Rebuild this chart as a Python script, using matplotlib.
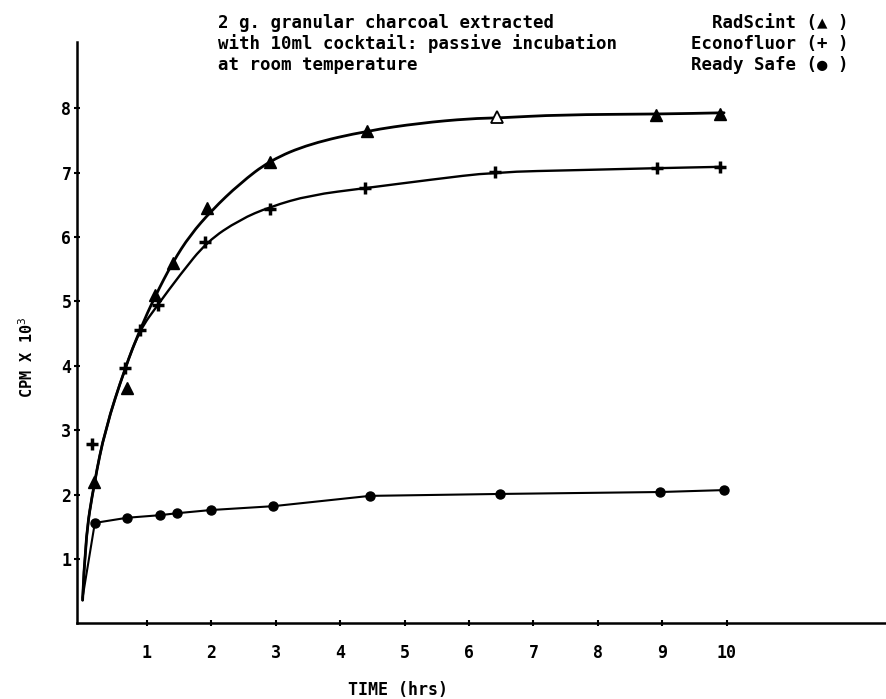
import numpy as np
import matplotlib
matplotlib.use("Agg")
from matplotlib import pyplot as plt
from matplotlib.path import Path
from matplotlib.patches import PathPatch

# marker readings (hours, CPM x 10^3)
rad_t = [0.18, 0.69, 1.12, 1.40, 1.93, 2.91, 4.42, 8.90, 9.90]
rad_y = [2.20, 3.65, 5.10, 5.60, 6.45, 7.17, 7.65, 7.90, 7.91]
rad_open_t = [6.44]
rad_open_y = [7.87]

econ_t = [0.14, 0.66, 0.89, 1.17, 1.90, 2.91, 4.39, 6.40, 8.92, 9.90]
econ_y = [2.78, 3.97, 4.56, 4.95, 5.92, 6.43, 6.76, 7.01, 7.07, 7.09]

safe_t = [0.00, 0.19, 0.69, 1.20, 1.46, 1.99, 2.96, 4.46, 6.48, 8.97, 9.96]
safe_y = [0.40, 1.56, 1.64, 1.68, 1.71, 1.76, 1.82, 1.98, 2.01, 2.04, 2.07]

# hand drawn fit curves
rad_curve_t = [0.00, 0.04, 0.18, 0.35, 0.66, 0.89, 1.12, 1.40, 1.67, 2.01, 2.44,
               2.91, 3.53, 4.42, 5.24, 6.02, 6.48, 7.41, 8.97, 9.96]
rad_curve_y = [0.36, 1.30, 2.18, 3.01, 3.97, 4.56, 5.07, 5.61, 6.03, 6.42, 6.83,
               7.19, 7.45, 7.65, 7.77, 7.84, 7.85, 7.90, 7.91, 7.93]
econ_curve_t = [0.00, 0.04, 0.18, 0.35, 0.66, 0.89, 1.17, 1.51, 1.93, 2.44, 2.91,
                3.53, 4.39, 5.40, 6.40, 7.72, 8.92, 9.90]
econ_curve_y = [0.36, 1.30, 2.18, 3.01, 3.97, 4.56, 4.95, 5.41, 5.93, 6.27, 6.47,
                6.65, 6.76, 6.89, 7.01, 7.04, 7.07, 7.09]

xticks = list(range(1, 11))
yticks = list(range(1, 9))

mono = ["DejaVu Sans Mono", "DejaVu Sans"]


def smooth_path(xs, ys):
    # quadratic bezier: read points are control points, midpoints on the curve
    verts = [(xs[0], ys[0])]
    codes = [Path.MOVETO]
    for i in range(1, len(xs) - 1):
        verts += [(xs[i], ys[i]),
                  ((xs[i] + xs[i + 1]) / 2, (ys[i] + ys[i + 1]) / 2)]
        codes += [Path.CURVE3, Path.CURVE3]
    verts.append((xs[-1], ys[-1]))
    codes.append(Path.LINETO)
    return Path(verts, codes)


fig = plt.figure(figsize=(8.87, 6.99), dpi=100)
ax = fig.add_axes([0.0868, 0.1082, 0.9132, 0.8318])

ax.add_patch(PathPatch(smooth_path(rad_curve_t, rad_curve_y), fc="none",
                       ec="black", lw=2.0, capstyle="round"))
ax.add_patch(PathPatch(smooth_path(econ_curve_t, econ_curve_y), fc="none",
                       ec="black", lw=1.7, capstyle="round"))
ax.plot(safe_t, safe_y, color="black", lw=1.5)
ax.plot(safe_t[1:], safe_y[1:], ls="none", marker="o", ms=6.5, color="black")

ax.plot(rad_t, rad_y, ls="none", marker="^", ms=8, color="black")
ax.plot(rad_open_t, rad_open_y, ls="none", marker="^", ms=8,
        mfc="white", mec="black", mew=1.3)
ax.plot(econ_t, econ_y, ls="none", marker="+", ms=9, mew=2.5, color="black")

ax.set_xlim(-0.087, 12.49)
ax.set_ylim(0, 9.03)
for s in ["top", "right"]:
    ax.spines[s].set_visible(False)
for s in ["left", "bottom"]:
    ax.spines[s].set_linewidth(1.8)

ax.set_xticks(xticks)
ax.set_yticks(yticks)
ax.tick_params(direction="inout", length=4, width=1.5, labelsize=12, pad=4)
for lab in ax.get_xticklabels() + ax.get_yticklabels():
    lab.set_family(mono)
    lab.set_fontweight("bold")
ax.tick_params(axis="x", pad=13)
ax.tick_params(axis="y", pad=2)

fig.text(398 / 887, 1 - 690 / 699, "TIME (hrs)", ha="center", va="center",
         fontsize=12, family=mono, fontweight="bold")
fig.text(27 / 887, 1 - 357 / 699, "CPM X 10$^3$", ha="center", va="center",
         rotation=90, fontsize=11, family=mono, fontweight="bold")

title_lines = ["2 g. granular charcoal extracted",
               "with 10ml cocktail: passive incubation",
               "at room temperature"]
legend_lines = ["RadScint (\u25B2 )", "Econofluor (+ )", "Ready Safe (\u25CF )"]
line_y = [23, 44, 65]
for t, l, yy in zip(title_lines, legend_lines, line_y):
    fig.text(218 / 887, 1 - yy / 699, t, ha="left", va="center",
             fontsize=12.5, family=mono, fontweight="bold")
    fig.text(849 / 887, 1 - yy / 699, l, ha="right", va="center",
             fontsize=12.5, family=mono, fontweight="bold")

fig.savefig("out.png", dpi=100)
